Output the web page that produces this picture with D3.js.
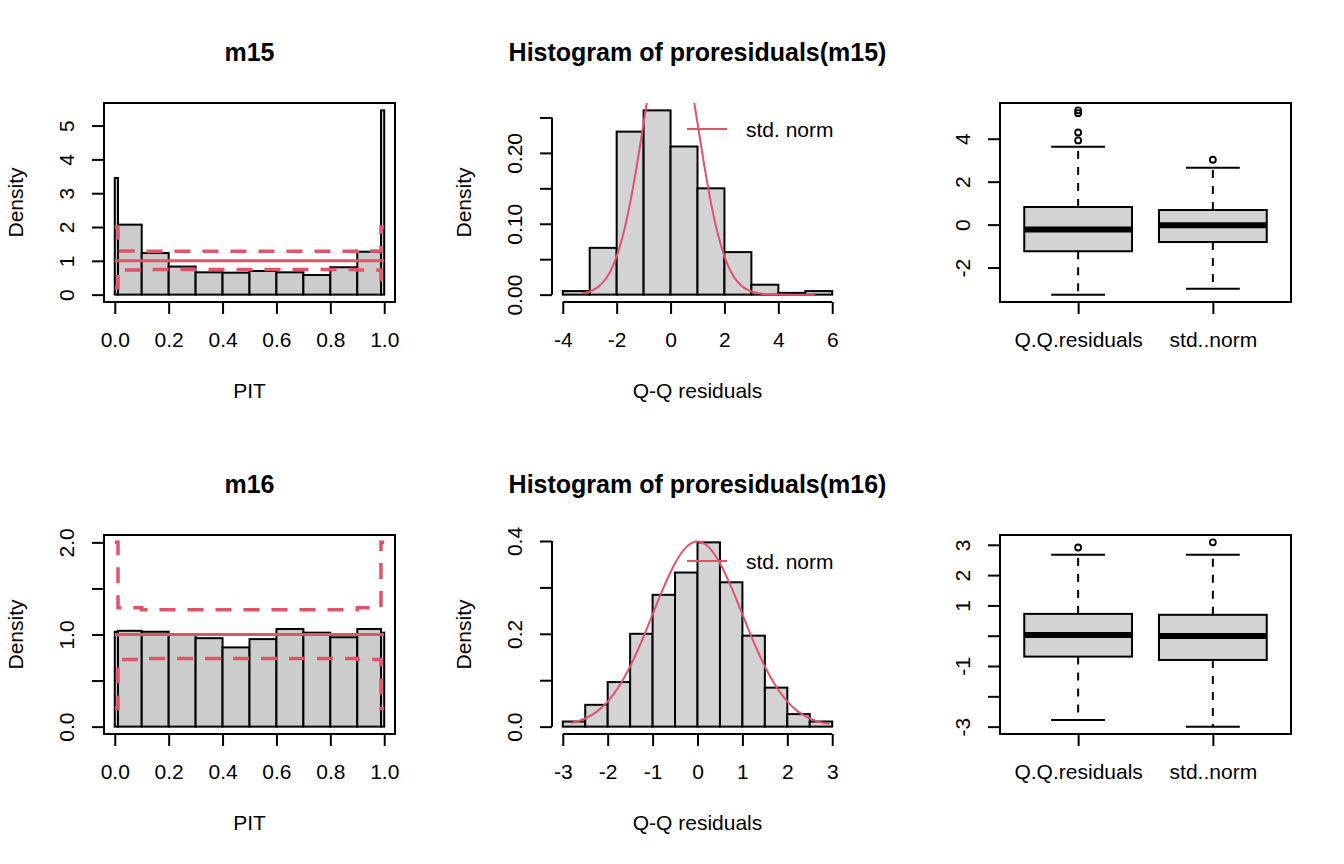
<!DOCTYPE html>
<html>
<head>
<meta charset="utf-8">
<script src="https://cdn.jsdelivr.net/npm/d3@7"></script>
<style>
  body { margin: 0; background: #fff; }
  svg text { font-family: "Liberation Sans", Arial, Helvetica, sans-serif; fill: #000; }
</style>
</head>
<body>
<div id="chart"></div>
<script>
// ---- data ----
const pitBreaks = [0, 0.012, 0.1, 0.2, 0.3, 0.4, 0.5, 0.6, 0.7, 0.8, 0.9, 0.988, 1];
const pitTicks = [0, 0.2, 0.4, 0.6, 0.8, 1];

const m15PitDensity = [3.45, 2.07, 1.23, 0.83, 0.66, 0.65, 0.7, 0.66, 0.58, 0.81, 1.27, 5.45];
const m15PitUpper = [2.0, 1.29, 1.28, 1.28, 1.28, 1.28, 1.28, 1.28, 1.28, 1.28, 1.29, 2.0];
const m15PitLower = [0.2, 0.73, 0.74, 0.74, 0.74, 0.74, 0.74, 0.74, 0.74, 0.74, 0.73, 0.44];

const m16PitDensity = [1.03, 1.04, 1.03, 1.0, 0.96, 0.86, 0.95, 1.06, 1.02, 0.97, 1.06, 1.02];
const m16PitUpper = [2.0, 1.29, 1.27, 1.27, 1.27, 1.27, 1.27, 1.27, 1.27, 1.27, 1.29, 2.0];
const m16PitLower = [0.2, 0.73, 0.74, 0.74, 0.74, 0.74, 0.74, 0.74, 0.74, 0.74, 0.73, 0.2];

const m15ResBreaks = [-4, -3, -2, -1, 0, 1, 2, 3, 4, 5, 6];
const m15ResDensity = [0.005, 0.066, 0.23, 0.26, 0.209, 0.15, 0.06, 0.014, 0.0025, 0.005];
const m15ResXTicks = [-4, -2, 0, 2, 4, 6];
const m15ResYTicks = [0, 0.05, 0.1, 0.15, 0.2, 0.25];
const m15ResYLabels = ["0.00", "", "0.10", "", "0.20", ""];

const m16ResBreaks = [-3, -2.5, -2, -1.5, -1, -0.5, 0, 0.5, 1, 1.5, 2, 2.5, 3];
const m16ResDensity = [0.011, 0.047, 0.096, 0.2, 0.284, 0.332, 0.397, 0.311, 0.196, 0.084, 0.027, 0.011];
const m16ResXTicks = [-3, -2, -1, 0, 1, 2, 3];
const m16ResYTicks = [0, 0.1, 0.2, 0.3, 0.4];
const m16ResYLabels = ["0.0", "", "0.2", "", "0.4"];

// std. normal reference curve, points along the drawn line
const m15NormX = [-3.29, -3, -2.75, -2.5, -2.25, -2, -1.75, -1.5, -1.25, -1, -0.75, -0.5, -0.25, 0,
  0.25, 0.5, 0.75, 1, 1.25, 1.5, 1.75, 2, 2.25, 2.5, 2.75, 3, 3.25, 3.5, 3.75, 4, 4.5, 5, 5.35];
const m15NormY = [0.0018, 0.0044, 0.0091, 0.0175, 0.0317, 0.054, 0.0863, 0.1295, 0.1826, 0.242, 0.3011, 0.3521, 0.3867, 0.3989,
  0.3867, 0.3521, 0.3011, 0.242, 0.1826, 0.1295, 0.0863, 0.054, 0.0317, 0.0175, 0.0091, 0.0044, 0.002, 0.0009, 0.0004, 0.0001, 0, 0, 0];
const m16NormX = [-2.81, -2.5, -2.25, -2, -1.75, -1.5, -1.25, -1, -0.75, -0.5, -0.25, 0,
  0.25, 0.5, 0.75, 1, 1.25, 1.5, 1.75, 2, 2.25, 2.5, 2.75, 2.93];
const m16NormY = [0.0077, 0.0175, 0.0317, 0.054, 0.0863, 0.1295, 0.1826, 0.242, 0.3011, 0.3521, 0.3867, 0.3989,
  0.3867, 0.3521, 0.3011, 0.242, 0.1826, 0.1295, 0.0863, 0.054, 0.0317, 0.0175, 0.0091, 0.0055];

const boxGroups = ["Q.Q.residuals", "std..norm"];
// [lower whisker, Q1, median, Q3, upper whisker]
const m15BoxStats = [[-3.26, -1.24, -0.23, 0.82, 3.63], [-2.99, -0.81, -0.03, 0.68, 2.65]];
const m15BoxOut = [[3.92, 4.29, 5.19, 5.32], [3.02]];
const m15BoxYTicks = [-2, 0, 2, 4];
const m15BoxYLabels = ["-2", "0", "2", "4"];

const m16BoxStats = [[-2.78, -0.69, 0.02, 0.72, 2.67], [-3.0, -0.8, -0.01, 0.69, 2.67]];
const m16BoxOut = [[2.91], [3.08]];
const m16BoxYTicks = [-3, -2, -1, 0, 1, 2, 3];
const m16BoxYLabels = ["-3", "", "-1", "", "1", "2", "3"];

// ---- layout (R par(mfrow = c(2, 3)) look) ----
const RED = "#DF536B";
const CELL_W = 448, CELL_H = 432;
const margin = { top: 103, right: 53, bottom: 130, left: 104 };
const plotW = CELL_W - margin.left - margin.right;
const plotH = CELL_H - margin.top - margin.bottom;
const LINE = 25.2; // one margin line in px

const svg = d3.select("#chart").append("svg")
  .attr("width", 1344).attr("height", 864);

// R extends the data range by 4% on each side
function rExt(lo, hi) {
  const pad = 0.04 * (hi - lo);
  return [lo - pad, hi + pad];
}

function makePanel(col, row, id) {
  const g = svg.append("g")
    .attr("transform", `translate(${col * CELL_W + margin.left},${row * CELL_H + margin.top})`);
  g.append("clipPath").attr("id", "clip-" + id)
    .append("rect").attr("width", plotW).attr("height", plotH);
  return g;
}

function drawTitle(g, text) {
  g.append("text")
    .attr("x", plotW / 2).attr("y", -42)
    .attr("text-anchor", "middle")
    .style("font-size", "25px").style("font-weight", "bold")
    .text(text);
}

function drawXAxis(g, x, ticks, labels) {
  const ax = g.append("g").attr("transform", `translate(0,${plotH})`)
    .call(d3.axisBottom(x).tickValues(ticks).tickSize(12).tickSizeOuter(0).tickFormat((d, i) => labels[i]));
  ax.select(".domain").remove();
  ax.append("line")
    .attr("x1", x(ticks[0])).attr("x2", x(ticks[ticks.length - 1]))
    .attr("stroke", "#000").attr("stroke-width", 2);
  ax.selectAll(".tick line").attr("stroke-width", 2);
  ax.selectAll("text")
    .attr("y", 1.5 * LINE + 7.5).attr("dy", null)
    .style("font-size", "21px").style("font-family", null);
}

function drawYAxis(g, y, ticks, labels) {
  const ax = g.append("g")
    .call(d3.axisLeft(y).tickValues(ticks).tickSize(12).tickSizeOuter(0).tickFormat((d, i) => labels[i]));
  ax.select(".domain").remove();
  ax.append("line")
    .attr("y1", y(ticks[0])).attr("y2", y(ticks[ticks.length - 1]))
    .attr("stroke", "#000").attr("stroke-width", 2);
  ax.selectAll(".tick line").attr("stroke-width", 2);
  ax.selectAll("text")
    .attr("transform", "rotate(-90)")
    .attr("x", 0).attr("y", -1.5 * LINE + 7.5).attr("dy", null)
    .attr("text-anchor", "middle")
    .style("font-size", "21px").style("font-family", null);
}

function drawAxisTitles(g, xText, yText) {
  if (xText) {
    g.append("text")
      .attr("x", plotW / 2).attr("y", plotH + 3.5 * LINE + 7.5)
      .attr("text-anchor", "middle").style("font-size", "21px")
      .text(xText);
  }
  if (yText) {
    g.append("text")
      .attr("transform", `translate(${-3.5 * LINE + 7.5},${plotH / 2}) rotate(-90)`)
      .attr("text-anchor", "middle").style("font-size", "21px")
      .text(yText);
  }
}

function drawFrame(g) {
  g.append("rect")
    .attr("width", plotW).attr("height", plotH)
    .attr("fill", "none").attr("stroke", "#000").attr("stroke-width", 2);
}

// ---- PIT histogram ----
function pitPanel(col, row, name, density, upper, lower, yTicks, yLabels) {
  const g = makePanel(col, row, "pit" + row);
  const yMax = Math.max(d3.max(density), d3.max(upper));
  const x = d3.scaleLinear().domain(rExt(0, 1)).range([0, plotW]);
  const y = d3.scaleLinear().domain(rExt(0, yMax)).range([plotH, 0]);

  const bins = density.map((d, i) => ({ x0: pitBreaks[i], x1: pitBreaks[i + 1], d: d }));
  g.selectAll("rect.bar").data(bins).join("rect")
    .attr("class", "bar")
    .attr("x", (b) => x(b.x0)).attr("width", (b) => x(b.x1) - x(b.x0))
    .attr("y", (b) => y(b.d)).attr("height", (b) => y(0) - y(b.d))
    .attr("fill", "#cccccc").attr("stroke", "#000").attr("stroke-width", 2);

  const step = d3.line().x((p) => x(p[0])).y((p) => y(p[1])).curve(d3.curveStepAfter);
  [upper, lower].forEach((vals) => {
    const pts = vals.map((v, i) => [pitBreaks[i], v]);
    pts.push([1, vals[vals.length - 1]]);
    g.append("path").attr("d", step(pts))
      .attr("fill", "none").attr("stroke", RED).attr("stroke-width", 3.5)
      .attr("stroke-dasharray", "16,12");
  });
  g.append("line")
    .attr("x1", x(0)).attr("x2", x(1)).attr("y1", y(1)).attr("y2", y(1))
    .attr("stroke", RED).attr("stroke-width", 3);

  drawFrame(g);
  drawXAxis(g, x, pitTicks, pitTicks.map((d) => d.toFixed(1)));
  drawYAxis(g, y, yTicks, yLabels);
  drawAxisTitles(g, "PIT", "Density");
  drawTitle(g, name);
}

// ---- histogram of Q-Q residuals ----
function resPanel(col, row, name, breaks, density, xTicks, yTicks, yLabels, normX, normY) {
  const id = "res" + row;
  const g = makePanel(col, row, id);
  const x = d3.scaleLinear().domain(rExt(breaks[0], breaks[breaks.length - 1])).range([0, plotW]);
  const y = d3.scaleLinear().domain(rExt(0, d3.max(density))).range([plotH, 0]);

  const bins = density.map((d, i) => ({ x0: breaks[i], x1: breaks[i + 1], d: d }));
  g.selectAll("rect.bar").data(bins).join("rect")
    .attr("class", "bar")
    .attr("x", (b) => x(b.x0)).attr("width", (b) => x(b.x1) - x(b.x0))
    .attr("y", (b) => y(b.d)).attr("height", (b) => y(0) - y(b.d))
    .attr("fill", "#d3d3d3").attr("stroke", "#000").attr("stroke-width", 2);

  const curve = d3.line().x((d, i) => x(normX[i])).y((d) => y(d)).curve(d3.curveMonotoneX);
  g.append("path").attr("d", curve(normY))
    .attr("clip-path", `url(#clip-${id})`)
    .attr("fill", "none").attr("stroke", RED).attr("stroke-width", 2);

  // legend, topright, no box
  const lg = g.append("g").attr("transform", `translate(${plotW},${26})`);
  lg.append("line").attr("x1", -156).attr("x2", -116)
    .attr("stroke", RED).attr("stroke-width", 2);
  lg.append("text").attr("x", -97).attr("y", 7.5)
    .style("font-size", "21px").text("std. norm");

  drawXAxis(g, x, xTicks, xTicks.map(String));
  drawYAxis(g, y, yTicks, yLabels);
  drawAxisTitles(g, "Q-Q residuals", "Density");
  drawTitle(g, name);
}

// ---- boxplots ----
function boxPanel(col, row, stats, outliers, yTicks, yLabels) {
  const g = makePanel(col, row, "box" + row);
  const all = stats.flat().concat(outliers.flat());
  const x = d3.scaleLinear().domain(rExt(0.5, 2.5)).range([0, plotW]);
  const y = d3.scaleLinear().domain(rExt(d3.min(all), d3.max(all))).range([plotH, 0]);

  const boxes = stats.map((s, i) => ({ pos: i + 1, s: s, out: outliers[i] }));
  const bg = g.selectAll("g.box").data(boxes).join("g").attr("class", "box");

  // whiskers
  bg.append("line")
    .attr("x1", (b) => x(b.pos)).attr("x2", (b) => x(b.pos))
    .attr("y1", (b) => y(b.s[3])).attr("y2", (b) => y(b.s[4]))
    .attr("stroke", "#000").attr("stroke-width", 2).attr("stroke-dasharray", "8,8");
  bg.append("line")
    .attr("x1", (b) => x(b.pos)).attr("x2", (b) => x(b.pos))
    .attr("y1", (b) => y(b.s[1])).attr("y2", (b) => y(b.s[0]))
    .attr("stroke", "#000").attr("stroke-width", 2).attr("stroke-dasharray", "8,8");
  [0, 4].forEach((k) => {
    bg.append("line")
      .attr("x1", (b) => x(b.pos - 0.2)).attr("x2", (b) => x(b.pos + 0.2))
      .attr("y1", (b) => y(b.s[k])).attr("y2", (b) => y(b.s[k]))
      .attr("stroke", "#000").attr("stroke-width", 2);
  });
  bg.append("rect")
    .attr("x", (b) => x(b.pos - 0.4)).attr("width", (b) => x(b.pos + 0.4) - x(b.pos - 0.4))
    .attr("y", (b) => y(b.s[3])).attr("height", (b) => y(b.s[1]) - y(b.s[3]))
    .attr("fill", "#d3d3d3").attr("stroke", "#000").attr("stroke-width", 2);
  bg.append("line")
    .attr("x1", (b) => x(b.pos - 0.4)).attr("x2", (b) => x(b.pos + 0.4))
    .attr("y1", (b) => y(b.s[2])).attr("y2", (b) => y(b.s[2]))
    .attr("stroke", "#000").attr("stroke-width", 6);
  bg.selectAll("circle").data((b) => b.out.map((v) => ({ pos: b.pos, v: v }))).join("circle")
    .attr("cx", (o) => x(o.pos)).attr("cy", (o) => y(o.v)).attr("r", 3)
    .attr("fill", "none").attr("stroke", "#000").attr("stroke-width", 1.8);

  drawFrame(g);
  drawXAxis(g, x, [1, 2], boxGroups);
  drawYAxis(g, y, yTicks, yLabels);
}

pitPanel(0, 0, "m15", m15PitDensity, m15PitUpper, m15PitLower, [0, 1, 2, 3, 4, 5], ["0", "1", "2", "3", "4", "5"]);
resPanel(1, 0, "Histogram of proresiduals(m15)", m15ResBreaks, m15ResDensity, m15ResXTicks, m15ResYTicks, m15ResYLabels, m15NormX, m15NormY);
boxPanel(2, 0, m15BoxStats, m15BoxOut, m15BoxYTicks, m15BoxYLabels);

pitPanel(0, 1, "m16", m16PitDensity, m16PitUpper, m16PitLower, [0, 0.5, 1, 1.5, 2], ["0.0", "", "1.0", "", "2.0"]);
resPanel(1, 1, "Histogram of proresiduals(m16)", m16ResBreaks, m16ResDensity, m16ResXTicks, m16ResYTicks, m16ResYLabels, m16NormX, m16NormY);
boxPanel(2, 1, m16BoxStats, m16BoxOut, m16BoxYTicks, m16BoxYLabels);
</script>
</body>
</html>
